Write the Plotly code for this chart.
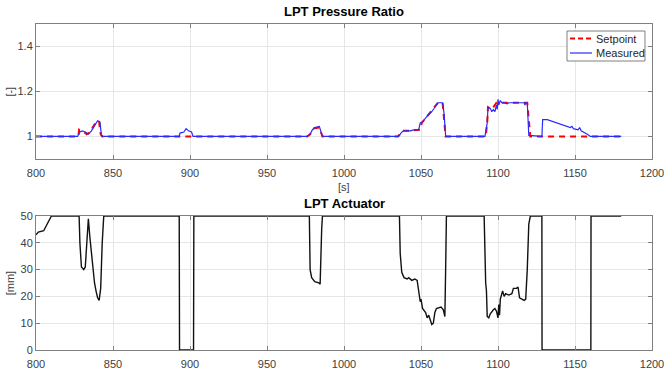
import plotly.graph_objects as go
from plotly.subplots import make_subplots

# ---- data ----
t_sp = [800, 826, 827.5, 828, 829, 831, 833, 835, 837, 839.5, 841, 842, 843,
        976, 978, 980, 984, 985.5, 986, 1035, 1036.5, 1038, 1041, 1048, 1049.5,
        1050.5, 1054, 1058, 1061, 1064, 1066, 1092, 1093, 1093.5, 1096, 1099,
        1119, 1121, 1180]
setpoint = [1.0, 1.0, 1.0, 1.03, 1.025, 1.02, 1.01, 1.02, 1.045, 1.07, 1.065, 1.01, 1.0,
            1.0, 1.01, 1.035, 1.04, 1.005, 1.0, 1.0, 1.015, 1.025, 1.025, 1.03, 1.03,
            1.06, 1.09, 1.12, 1.15, 1.15, 1.0, 1.0, 1.06, 1.13, 1.12, 1.15,
            1.15, 1.0, 1.0]

t_meas = [800, 827, 828.5, 830, 832, 834, 836, 838, 840, 841.5, 842.5, 843.5,
          893, 893.5, 896, 897.5, 899, 901, 902,
          976, 978, 979.5, 981, 984, 985.5, 986.5,
          1035.5, 1037, 1038.5, 1040, 1043, 1046, 1048.5, 1049.5, 1051, 1054, 1057,
          1059, 1061, 1064, 1065, 1066,
          1091.5, 1093, 1093.5, 1095, 1096, 1097, 1098, 1099, 1099.5, 1100, 1100.5,
          1101.5, 1102.5, 1104, 1106, 1107, 1117, 1117.5, 1118, 1119, 1120,
          1128.5, 1129, 1132, 1136, 1140, 1144, 1147, 1148, 1149, 1152, 1153, 1154,
          1157, 1158, 1160, 1180]
measured = [1.0, 1.0, 1.02, 1.025, 1.02, 1.01, 1.025, 1.05, 1.07, 1.065, 1.005, 1.0,
            1.0, 1.015, 1.02, 1.035, 1.025, 1.02, 1.0,
            1.0, 1.01, 1.03, 1.04, 1.045, 1.01, 1.0,
            1.0, 1.015, 1.025, 1.025, 1.025, 1.03, 1.03, 1.06, 1.065, 1.09, 1.11,
            1.13, 1.15, 1.15, 1.1, 1.0,
            1.0, 1.06, 1.13, 1.125, 1.11, 1.12, 1.11, 1.14, 1.12, 1.165, 1.14,
            1.16, 1.15, 1.15, 1.145, 1.15, 1.15, 1.14, 1.15, 1.15, 1.005,
            1.0, 1.075, 1.075, 1.065, 1.055, 1.045, 1.04, 1.045, 1.035, 1.03, 1.04, 1.025,
            1.015, 1.01, 1.0, 1.0]

t_act = [800, 801.5, 805, 808, 810, 828, 828.5, 829.5, 831, 832, 833, 834, 835, 836,
         837, 838, 839, 840, 841, 842, 843, 844,
         893, 893.2, 902.3, 902.5,
         977.5, 978, 979, 981, 984, 984.5, 985.5, 986,
         1036, 1036.5, 1037.5, 1039, 1041, 1042, 1044, 1046, 1047.5, 1048, 1049.5, 1050,
         1051, 1053, 1054, 1055, 1057, 1058, 1059, 1060, 1063, 1064.5, 1065.5, 1066, 1066.5,
         1091, 1091.5, 1092, 1092.5, 1093, 1094, 1095, 1097, 1098, 1099, 1100, 1100.5,
         1101, 1101.5, 1103, 1104, 1105, 1107, 1109, 1110, 1112, 1113, 1114, 1115.5,
         1117, 1118, 1119, 1120, 1121, 1128.5, 1128.6, 1160.3, 1160.4, 1180]
actuator = [43, 44, 44.5, 47.5, 50, 50, 40, 31, 30, 31, 42, 49, 42, 36,
            31, 25, 22, 19.5, 18.5, 23, 40, 50,
            50, 0, 0, 50,
            50, 30, 27, 25.5, 25, 24.5, 45, 50,
            50, 36, 29, 27, 26.5, 27, 26, 26.5, 26, 24, 18, 19,
            15.5, 14, 12, 13, 9.5, 10, 14, 15.5, 16, 15, 12.5, 30, 50,
            50, 28, 25, 22, 12.5, 12, 13.5, 15, 15.5, 14.5, 12, 17,
            13, 19, 22, 20, 21, 20.5, 21, 23, 23, 23.5, 19.5, 19,
            18.5, 19, 30, 47, 50, 50, 0, 0, 50, 50]

x_ticks = [800, 850, 900, 950, 1000, 1050, 1100, 1150, 1200]
legend_names = ["Setpoint", "Measured"]

FONT = "Liberation Sans, Arial, sans-serif"
SP_COLOR, MEAS_COLOR = "#ff0000", "#2a2aff"
fig = make_subplots(rows=2, cols=1, vertical_spacing=0.175)

fig.add_trace(go.Scatter(x=t_sp, y=setpoint, name=legend_names[0], mode="lines", showlegend=False,
                         line=dict(color=SP_COLOR, width=2, dash="6px,5px")), row=1, col=1)
fig.add_trace(go.Scatter(x=t_meas, y=measured, name=legend_names[1], mode="lines", showlegend=False,
                         line=dict(color=MEAS_COLOR, width=1.2)), row=1, col=1)
fig.add_trace(go.Scatter(x=t_act, y=actuator, name="Actuator", mode="lines", showlegend=False,
                         line=dict(color="#111111", width=1.4)), row=2, col=1)

axis_common = dict(showline=True, linecolor="#808080", linewidth=1, mirror="ticks",
                   ticks="inside", ticklen=4, tickcolor="#808080", automargin=False,
                   showgrid=True, gridcolor="#e6e6e6", gridwidth=1, zeroline=False,
                   tickfont=dict(family=FONT, size=11, color="#404040"))

fig.update_xaxes(range=[800, 1200], tickvals=x_ticks, ticklabelstandoff=4, **axis_common)
fig.update_yaxes(**axis_common)
fig.update_yaxes(range=[0.9, 1.5], tickvals=[1, 1.2, 1.4], ticktext=["1", "1.2", "1.4"], row=1, col=1)
fig.update_yaxes(range=[0, 50], tickvals=[0, 10, 20, 30, 40, 50], row=2, col=1)

# manual legend box (paper coords of the plotting area)
lx0, lx1, ly0, ly1 = 0.862, 0.9886, 0.8865, 0.9785
rows_y = [0.9555, 0.911]
shapes = [dict(type="rect", xref="paper", yref="paper", x0=lx0, x1=lx1, y0=ly0, y1=ly1,
               line=dict(color="#808080", width=1), fillcolor="white", layer="above")]
shapes.append(dict(type="line", xref="paper", yref="paper", x0=0.8669, x1=0.9026,
                   y0=rows_y[0], y1=rows_y[0], line=dict(color=SP_COLOR, width=2, dash="5px,3px"),
                   layer="above"))
shapes.append(dict(type="line", xref="paper", yref="paper", x0=0.8669, x1=0.9026,
                   y0=rows_y[1], y1=rows_y[1], line=dict(color=MEAS_COLOR, width=1.2),
                   layer="above"))

annotations = [
    dict(text="<b>LPT Pressure Ratio</b>", x=0.5, y=1.0, xref="paper", yref="paper",
         xanchor="center", yanchor="bottom", yshift=3, showarrow=False,
         font=dict(family=FONT, size=13, color="#000000")),
    dict(text="<b>LPT Actuator</b>", x=0.5, y=0.411, xref="paper", yref="paper",
         xanchor="center", yanchor="bottom", yshift=3, showarrow=False,
         font=dict(family=FONT, size=13, color="#000000")),
    dict(text="[s]", x=0.5, y=0.586, xref="paper", yref="paper",
         xanchor="center", yanchor="top", yshift=-20, showarrow=False,
         font=dict(family=FONT, size=11, color="#404040")),
    dict(text="[-]", x=-0.042, y=0.793, xref="paper", yref="paper", textangle=-90,
         xanchor="center", yanchor="middle", showarrow=False,
         font=dict(family=FONT, size=11, color="#404040")),
    dict(text="[mm]", x=-0.042, y=0.205, xref="paper", yref="paper", textangle=-90,
         xanchor="center", yanchor="middle", showarrow=False,
         font=dict(family=FONT, size=11, color="#404040")),
]
for name, yy in zip(legend_names, rows_y):
    annotations.append(dict(text=name, x=0.9058, y=yy, xref="paper", yref="paper",
                            xanchor="left", yanchor="middle", showarrow=False,
                            font=dict(family=FONT, size=11, color="#262626")))

fig.update_layout(
    width=670, height=370,
    margin=dict(l=36, r=18, t=24, b=20, autoexpand=False),
    paper_bgcolor="white", plot_bgcolor="white",
    font=dict(family=FONT, size=11, color="#404040"),
    yaxis=dict(domain=[0.586, 1.0]),
    yaxis2=dict(domain=[0.0, 0.411]),
    showlegend=False,
    shapes=shapes,
    annotations=annotations,
)

fig.write_html("out.html")
